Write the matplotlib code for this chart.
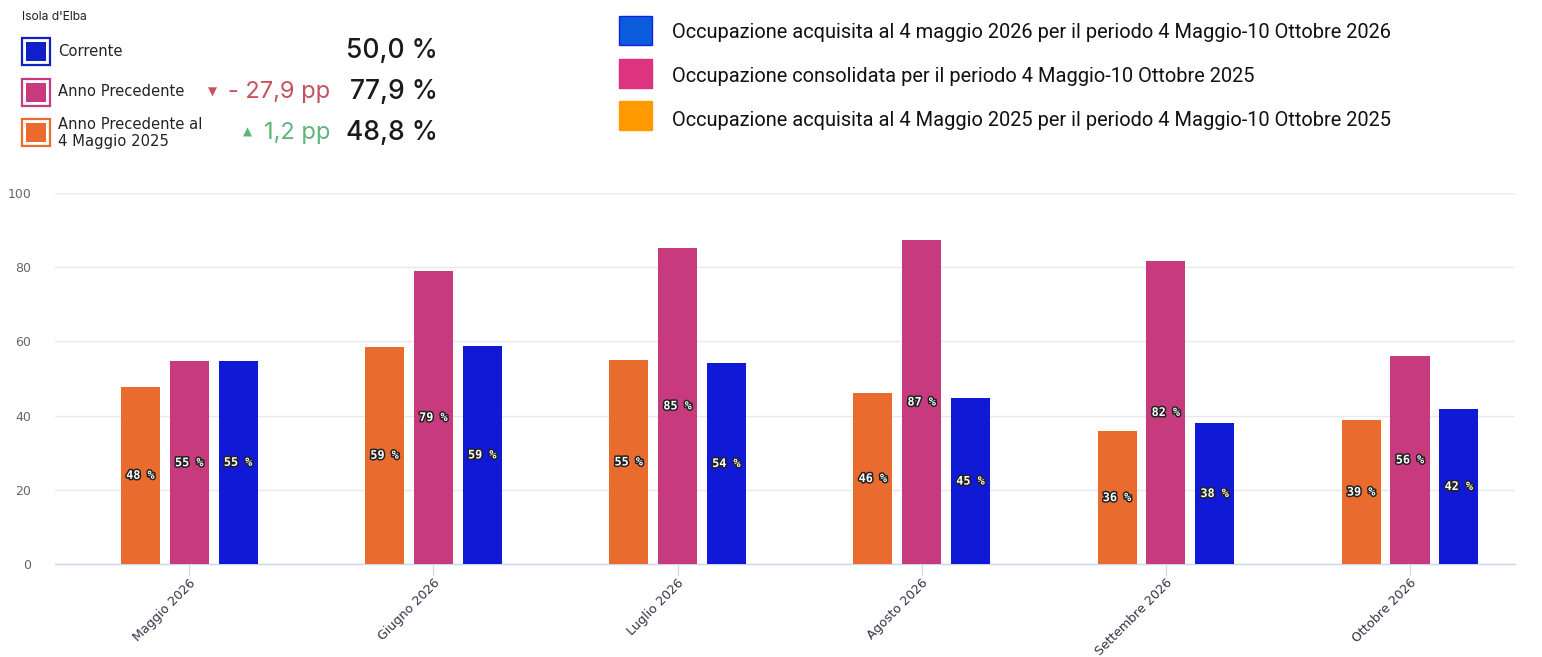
import matplotlib
matplotlib.use("Agg")
import matplotlib.pyplot as plt
import matplotlib.patheffects as pe
from matplotlib.patches import Rectangle
import numpy as np

# ---- data ----
categories = ["Maggio 2026", "Giugno 2026", "Luglio 2026", "Agosto 2026", "Settembre 2026", "Ottobre 2026"]
prev_at_date = [47.8, 58.6, 55.0, 46.1, 35.8, 38.8]     # orange
prev_consolidated = [54.6, 79.0, 85.2, 87.3, 81.7, 56.1]  # pink
current = [54.8, 58.8, 54.2, 44.7, 38.0, 41.8]          # blue
yticks = [0, 20, 40, 60, 80, 100]

legend_labels = [
    "Occupazione acquisita al 4 maggio 2026 per il periodo 4 Maggio-10 Ottobre 2026",
    "Occupazione consolidata per il periodo 4 Maggio-10 Ottobre 2025",
    "Occupazione acquisita al 4 Maggio 2025 per il periodo 4 Maggio-10 Ottobre 2025",
]
summary_title = "Isola d'Elba"
summary_names = ["Corrente", "Anno Precedente", "Anno Precedente al\n4 Maggio 2025"]
summary_values = ["50,0 %", "77,9 %", "48,8 %"]
summary_deltas = [None, "- 27,9 pp", "1,2 pp"]

C_ORANGE = "#E96B2E"
C_PINK = "#C83A7E"
C_BLUE = "#1019D6"

W, H = 1542, 657
fig = plt.figure(figsize=(W / 100, H / 100), dpi=100)
fig.patch.set_facecolor("white")

def fx(px):
    return px / W

def fy(py):
    return 1 - py / H

ax = fig.add_axes([fx(55), fy(564), fx(1515) - fx(55), fy(193) - fy(564)])
x = np.arange(len(categories))
bw = 0.16
off = 0.2
series = [(prev_at_date, C_ORANGE, -off), (prev_consolidated, C_PINK, 0), (current, C_BLUE, off)]
for vals, col, o in series:
    bars = ax.bar(x + o, vals, width=bw, color=col, zorder=3)
    for b, v in zip(bars, vals):
        t = ax.text(b.get_x() + b.get_width() / 2, v / 2, f"{round(v):d} %",
                    ha="center", va="center", color="white", fontsize=8.5,
                    family="DejaVu Sans Mono", fontweight="bold", zorder=4)
        t.set_path_effects([pe.withStroke(linewidth=2.2, foreground="#222222")])

ax.set_xlim(-0.55, 5.43)
ax.set_ylim(0, 100)
ax.set_yticks(yticks)
ax.set_yticklabels([str(v) for v in yticks])
ax.tick_params(axis="y", length=0, labelsize=9, labelcolor="#666666", pad=17)
ax.yaxis.grid(True, color="#e9e9e9", linewidth=1, zorder=0)
ax.set_axisbelow(True)
for s in ["top", "right", "left"]:
    ax.spines[s].set_visible(False)
ax.spines["bottom"].set_color("#ccd6eb")
ax.spines["bottom"].set_linewidth(1)
ax.set_xticks(x)
ax.set_xticklabels(categories, rotation=45, ha="right", rotation_mode="anchor")
ax.tick_params(axis="x", length=8, color="#ccd6eb", labelsize=9.1, labelcolor="#333344", pad=1)

# ---- top-right legend ----
leg_cols = ["#0B5BDD", "#DE347F", "#FF9A00"]
leg_edges = ["#1522E0", "#DE347F", "#FF9A00"]
leg_y = [16, 59, 101]
leg_text_y = [33, 76, 120]
for col, ec, y0, ty, lab in zip(leg_cols, leg_edges, leg_y, leg_text_y, legend_labels):
    fig.patches.append(Rectangle((fx(619), fy(y0 + 29)), fx(652) - fx(619), fy(y0) - fy(y0 + 29),
                                 transform=fig.transFigure, facecolor=col, edgecolor=ec, linewidth=1))
    fig.text(fx(672), fy(ty), lab, ha="left", va="center", fontsize=14.4, family="Roboto", color="#111111")

# ---- top-left summary ----
fig.text(fx(22), fy(17), summary_title, ha="left", va="center", fontsize=8.7, family="Inter", color="#222222")
sq_cols = ["#1020C8", "#C83A7E", "#E96B2E"]
sq_y = [38, 79, 119]
name_y = [51, 92, 133]
for col, y0, ny, name, val, d in zip(sq_cols, sq_y, name_y, summary_names, summary_values, summary_deltas):
    fig.patches.append(Rectangle((fx(22), fy(y0 + 27)), fx(50) - fx(22), fy(y0) - fy(y0 + 27),
                                 transform=fig.transFigure, facecolor="white", edgecolor=col, linewidth=1.6))
    fig.patches.append(Rectangle((fx(26), fy(y0 + 23)), fx(46) - fx(26), fy(y0 + 4) - fy(y0 + 23),
                                 transform=fig.transFigure, facecolor=col, edgecolor="none"))
    fig.text(fx(58), fy(ny), name, ha="left", va="center", fontsize=10.6, family="DejaVu Sans",
             color="#222222", linespacing=1.1)
    fig.text(fx(438), fy(ny), val, ha="right", va="center", fontsize=19, family="Inter",
             fontweight="medium", color="#1a1a1a")

# deltas
fig.text(fx(330), fy(92), summary_deltas[1], ha="right", va="center", fontsize=17, family="Inter",
         color="#C8505A")
fig.text(fx(212), fy(92), "\u25BC", ha="center", va="center", fontsize=8.5, family="DejaVu Sans",
         color="#C8505A")
fig.text(fx(330), fy(133), summary_deltas[2], ha="right", va="center", fontsize=17, family="Inter",
         color="#5DB57A")
fig.text(fx(247), fy(132), "\u25B2", ha="center", va="center", fontsize=8.5, family="DejaVu Sans",
         color="#5DB57A")

fig.savefig("out.png", dpi=100, facecolor="white")
